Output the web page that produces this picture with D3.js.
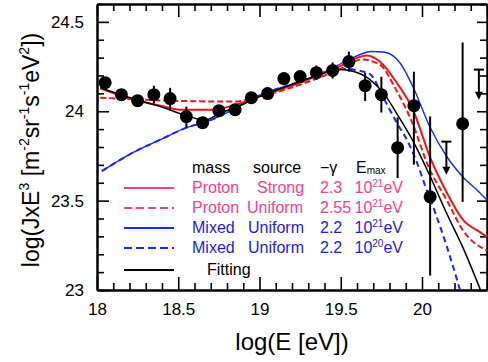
<!DOCTYPE html>
<html>
<head>
<meta charset="utf-8">
<script src="https://cdn.jsdelivr.net/npm/d3@7"></script>
<style>
  body { margin: 0; background: #fff; }
  text { font-family: "Liberation Sans", Arial, sans-serif; }
</style>
</head>
<body>
<div id="chart"></div>
<script>
const width = 488
const height = 362

// measured points, log(E) and log(J E^3)
const logE = [18.05, 18.15, 18.25, 18.35, 18.45, 18.55, 18.65, 18.75, 18.85, 18.95, 19.05,
              19.15, 19.25, 19.35, 19.45, 19.55, 19.65, 19.75, 19.85, 19.95, 20.05, 20.25]
const logJE3 = [24.160, 24.093, 24.059, 24.093, 24.071, 23.970, 23.936, 24.003, 24.009, 24.076, 24.099,
                24.183, 24.194, 24.216, 24.228, 24.278, 24.143, 24.093, 23.796, 24.031, 23.521, 23.930]
const errUp = [0.03, 0.03, 0.03, 0.05, 0.06, 0.056, 0.03, 0.03, 0.03, 0.03, 0.03,
               0.03, 0.03, 0.04, 0.045, 0.056, 0.073, 0.10, 0.17, 0.19, 0.45, 0.455]
const errDown = [0.03, 0.03, 0.03, 0.05, 0.07, 0.062, 0.03, 0.03, 0.03, 0.03, 0.03,
                 0.03, 0.03, 0.04, 0.045, 0.056, 0.085, 0.10, 0.17, 0.33, 0.44, 0.437]

// upper limits
const limitE = [20.15, 20.35]
const limitTop = [23.83, 24.233]
const limitTip = [23.645, 24.065]

// model curves [log(E), log(J E^3)]
const protonStrong = [[18.02, 24.128], [18.22, 24.065], [18.39, 24.031], [18.51, 24.009], [18.71, 24.009],
  [18.835, 24.031], [19.0, 24.082], [19.25, 24.160], [19.49, 24.250], [19.66, 24.312], [19.74, 24.278],
  [19.846, 24.158], [19.945, 24.007], [20.049, 23.744], [20.154, 23.543], [20.252, 23.392],
  [20.357, 23.324], [20.4, 23.297]]
const protonUniform = [[18.02, 24.076], [18.45, 24.059], [18.84, 24.054], [19.0, 24.082], [19.25, 24.149],
  [19.49, 24.233], [19.63, 24.289], [19.74, 24.261], [19.84, 24.121], [19.94, 23.936], [20.04, 23.689],
  [20.154, 23.50], [20.25, 23.336], [20.4, 23.22]]
const mixed21 = [[18.03, 23.665], [18.22, 23.768], [18.39, 23.841], [18.55, 23.908], [18.675, 23.942],
  [18.835, 24.009], [18.94, 24.065], [19.06, 24.110], [19.25, 24.166], [19.43, 24.233], [19.55, 24.289],
  [19.69, 24.334], [19.77, 24.330], [19.865, 24.270], [19.945, 24.136], [20.049, 23.912],
  [20.154, 23.744], [20.252, 23.632], [20.357, 23.543], [20.4, 23.503]]
const mixed20 = [[18.03, 23.665], [18.22, 23.768], [18.39, 23.841], [18.55, 23.908], [18.675, 23.942],
  [18.835, 24.009], [18.94, 24.065], [19.06, 24.110], [19.25, 24.166], [19.43, 24.225], [19.53, 24.238],
  [19.59, 24.231], [19.68, 24.208], [19.76, 24.08], [19.846, 23.934], [19.908, 23.839], [19.97, 23.71],
  [20.018, 23.587], [20.08, 23.436], [20.154, 23.24], [20.234, 23.0]]
const fitting = [[18.02, 24.132], [18.22, 24.071], [18.39, 24.026], [18.57, 23.970], [18.66, 23.950],
  [18.76, 23.990], [18.88, 24.031], [19.0, 24.082], [19.25, 24.166], [19.37, 24.205], [19.49, 24.233],
  [19.58, 24.222], [19.68, 24.177], [19.77, 24.093], [19.86, 23.964], [19.94, 23.841], [20.04, 23.656],
  [20.15, 23.432], [20.25, 23.241], [20.36, 23.0]]

// legend texts
const legendMass = ["Proton", "Proton", "Mixed", "Mixed"]
const legendSource = ["Strong", "Uniform", "Uniform", "Uniform"]
const legendGamma = ["2.3", "2.55", "2.2", "2.2"]
const legendEmaxExp = ["21", "21", "21", "20"]

const xMajor = [18, 18.5, 19, 19.5, 20]
const yMajor = [23, 23.5, 24, 24.5]

const pink = "#ff3c8c"
const red = "#f01414"
const blue = "#1428ff"
const blueText = "#1a1aee"

const svg = d3.select("#chart").append("svg")
    .attr("width", width)
    .attr("height", height)

const x = d3.scaleLinear().domain([18, 20.4]).range([97, 487])
const y = d3.scaleLinear().domain([23, 24.6]).range([290, 4])

const xMinor = d3.range(180, 205).map(d => d / 10).filter(d => !xMajor.includes(d))
const yMinor = d3.range(230, 247).map(d => d / 10).filter(d => !yMajor.includes(d))

function styleAxis(g) {
    g.selectAll("path.domain").attr("stroke", "#000").attr("stroke-width", 2)
    g.selectAll(".tick line").attr("stroke", "#000").attr("stroke-width", 1.6)
    g.selectAll(".tick text")
        .attr("fill", "#000")
        .attr("font-size", 17)
        .attr("font-family", "Liberation Sans, Arial, sans-serif")
}

// bottom
const gx = svg.append("g").attr("transform", "translate(0,290)")
gx.append("g").call(d3.axisBottom(x).tickValues(xMinor).tickSize(-7).tickSizeOuter(0).tickFormat(""))
gx.append("g").call(d3.axisBottom(x).tickValues(xMajor).tickSize(-13).tickSizeOuter(0).tickPadding(13).tickFormat(d => String(d)))
gx.call(styleAxis)

// top
const gxt = svg.append("g").attr("transform", "translate(0,4)")
gxt.append("g").call(d3.axisTop(x).tickValues(xMinor).tickSize(-7).tickSizeOuter(0).tickFormat(""))
gxt.append("g").call(d3.axisTop(x).tickValues(xMajor).tickSize(-13).tickSizeOuter(0).tickFormat(""))
gxt.call(styleAxis)

// left
const gy = svg.append("g").attr("transform", "translate(97,0)")
gy.append("g").call(d3.axisLeft(y).tickValues(yMinor).tickSize(-7).tickSizeOuter(0).tickFormat(""))
gy.append("g").call(d3.axisLeft(y).tickValues(yMajor).tickSize(-12).tickSizeOuter(0).tickPadding(13).tickFormat(d => String(d)))
gy.call(styleAxis)

// right
const gyr = svg.append("g").attr("transform", "translate(487,0)")
gyr.append("g").call(d3.axisRight(y).tickValues(yMinor).tickSize(-7).tickSizeOuter(0).tickFormat(""))
gyr.append("g").call(d3.axisRight(y).tickValues(yMajor).tickSize(-10).tickSizeOuter(0).tickFormat(""))
gyr.call(styleAxis)

// curves
svg.append("clipPath").attr("id", "plotclip")
    .append("rect").attr("x", 97).attr("y", 4).attr("width", 390).attr("height", 286)

const line = d3.line()
    .x(d => x(d[0]))
    .y(d => y(d[1]))
    .curve(d3.curveMonotoneX)

const curves = [
    {data: mixed20, color: blue, width: 2, dash: "6,4"},
    {data: mixed21, color: blue, width: 1.4, dash: null},
    {data: protonUniform, color: red, width: 2, dash: "6,3"},
    {data: protonStrong, color: red, width: 2, dash: null},
    {data: fitting, color: "#000", width: 1.5, dash: null}
]

svg.append("g").attr("clip-path", "url(#plotclip)")
    .selectAll("path")
    .data(curves)
    .join("path")
    .attr("d", d => line(d.data))
    .attr("fill", "none")
    .attr("stroke", d => d.color)
    .attr("stroke-width", d => d.width)
    .attr("stroke-dasharray", d => d.dash)

// points with error bars
const pts = logE.map((e, i) => ({e: e, v: logJE3[i], up: errUp[i], down: errDown[i]}))

const gp = svg.append("g")
gp.selectAll("line.err")
    .data(pts)
    .join("line")
    .attr("class", "err")
    .attr("x1", d => x(d.e)).attr("x2", d => x(d.e))
    .attr("y1", d => y(d.v + d.up)).attr("y2", d => y(Math.max(23, d.v - d.down)))
    .attr("stroke", "#000")
    .attr("stroke-width", 2)
gp.selectAll("circle")
    .data(pts)
    .join("circle")
    .attr("cx", d => x(d.e))
    .attr("cy", d => y(d.v))
    .attr("r", 6.5)
    .attr("fill", "#000")

// upper limits
const lims = limitE.map((e, i) => ({e: e, top: limitTop[i], tip: limitTip[i]}))
const gl = svg.append("g").selectAll("g").data(lims).join("g")
gl.append("line")
    .attr("x1", d => x(d.e)).attr("x2", d => x(d.e))
    .attr("y1", d => y(d.top)).attr("y2", d => y(d.tip) - 4)
    .attr("stroke", "#000").attr("stroke-width", 2)
gl.append("line")
    .attr("x1", d => x(d.e) - 5).attr("x2", d => x(d.e) + 5)
    .attr("y1", d => y(d.top)).attr("y2", d => y(d.top))
    .attr("stroke", "#000").attr("stroke-width", 2)
gl.append("path")
    .attr("d", d => `M${x(d.e) - 4},${y(d.tip) - 8}L${x(d.e) + 4},${y(d.tip) - 8}L${x(d.e)},${y(d.tip)}Z`)
    .attr("fill", "#000")

// legend
const legend = svg.append("g").attr("font-size", 16)
const header = legend.append("g").attr("fill", "#000")
header.append("text").attr("x", 192).attr("y", 173).text("mass")
header.append("text").attr("x", 253).attr("y", 173).text("source")
header.append("text").attr("x", 320).attr("y", 173).text("−γ")
const emax = header.append("text").attr("x", 356).attr("y", 173)
emax.append("tspan").text("E")
emax.append("tspan").attr("font-size", 10).attr("dy", 1).text("max")

const rowY = [193, 213, 233, 253]
const rowColor = [pink, pink, blueText, blueText]
const rowLine = [pink, pink, blue, blue]
const rowDash = [null, "8,4", null, "8,4"]
const sourceX = [257, 247, 248, 248]

rowY.forEach((ry, i) => {
    legend.append("line")
        .attr("x1", 124).attr("x2", 174)
        .attr("y1", ry - 5).attr("y2", ry - 5)
        .attr("stroke", rowLine[i]).attr("stroke-width", 2.2)
        .attr("stroke-dasharray", rowDash[i])
    legend.append("text").attr("x", 192).attr("y", ry).attr("fill", rowColor[i]).text(legendMass[i])
    legend.append("text").attr("x", sourceX[i]).attr("y", ry).attr("fill", rowColor[i]).text(legendSource[i])
    legend.append("text").attr("x", 320).attr("y", ry).attr("fill", rowColor[i]).text(legendGamma[i])
    const em = legend.append("text").attr("x", 403).attr("y", ry).attr("fill", rowColor[i]).attr("text-anchor", "end")
    em.append("tspan").text("10")
    em.append("tspan").attr("font-size", 10).attr("dy", -6).text(legendEmaxExp[i])
    em.append("tspan").attr("dy", 6).text("eV")
})

legend.append("line")
    .attr("x1", 124).attr("x2", 174)
    .attr("y1", 270).attr("y2", 270)
    .attr("stroke", "#000").attr("stroke-width", 2.2)
legend.append("text").attr("x", 207).attr("y", 275).attr("fill", "#000").text("Fitting")

// axis titles
svg.append("text")
    .attr("x", 292).attr("y", 350)
    .attr("text-anchor", "middle")
    .attr("font-size", 24)
    .text("log(E [eV])")

const ylab = svg.append("text")
    .attr("transform", "translate(39,150) rotate(-90)")
    .attr("text-anchor", "middle")
    .attr("font-size", 23)
const ylabParts = [["log(JxE", 0], ["3", 1], [" [m", 0], ["-2", 1], ["sr", 0], ["-1", 1], ["s", 0], ["-1", 1], ["eV", 0], ["2", 1], ["])", 0]]
let up = false
ylabParts.forEach(([t, sup]) => {
    const ts = ylab.append("tspan").text(t)
    if (sup && !up) { ts.attr("dy", -10).attr("font-size", 14); up = true }
    else if (sup) { ts.attr("font-size", 14) }
    else if (up) { ts.attr("dy", 10); up = false }
})
</script>
</body>
</html>
